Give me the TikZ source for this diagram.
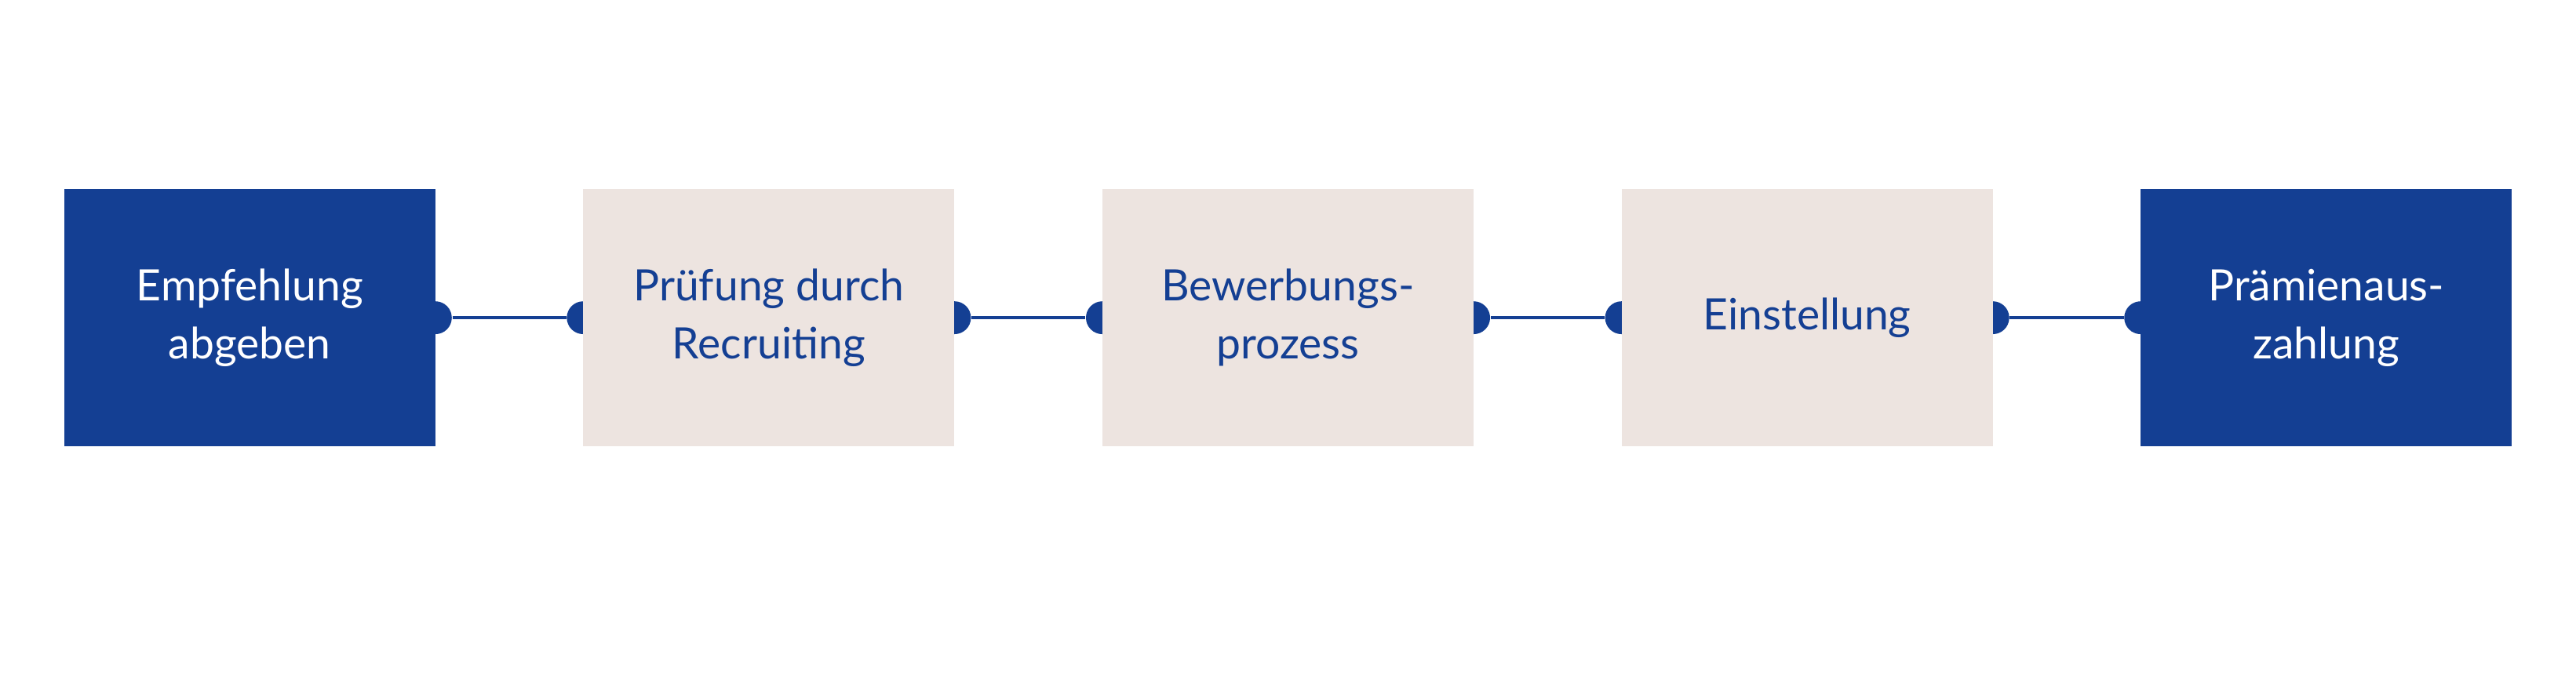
\documentclass[tikz,border=0pt]{standalone}
\usepackage{fontspec}
\setmainfont{Lato}
\definecolor{dblue}{HTML}{143F93}
\definecolor{beige}{HTML}{EDE4E0}
\begin{document}
\begin{tikzpicture}[x=0.02cm,y=-0.02cm,
  box/.style={minimum width=226*0.02cm,minimum height=157*0.02cm,inner sep=0,align=center,font=\fontsize{15}{20}\selectfont},
  dbox/.style={box,fill=dblue,text=white},
  lbox/.style={box,fill=beige,text=dblue},
  dotc/.style={fill=dblue,circle,minimum size=20*0.02cm,inner sep=0}]
\useasboundingbox (0,0) rectangle (1568,418);
\foreach \i/\n in {0/a,1/b,2/c,3/d,4/e}{
  \coordinate (\n) at (152+316*\i,193.5);
}
\foreach \n/\m in {a/b,b/c,c/d,d/e}{
  \node[dotc] (\n r) at ([xshift=113*0.02cm]\n) {};
  \node[dotc] (\m l) at ([xshift=-113*0.02cm]\m) {};
  \draw[dblue,line width=1.2pt] (\n r) -- (\m l);
}
\node[dbox] (A) at (a) {Empfehlung\\abgeben};
\node[lbox] (B) at (b) {Prüfung durch\\Recruiting};
\node[lbox] (C) at (c) {Bewerbungs-\\prozess};
\node[lbox] (D) at (d) {Einstellung};
\node[dbox] (E) at (e) {Prämienaus-\\zahlung};
\end{tikzpicture}
\end{document}
